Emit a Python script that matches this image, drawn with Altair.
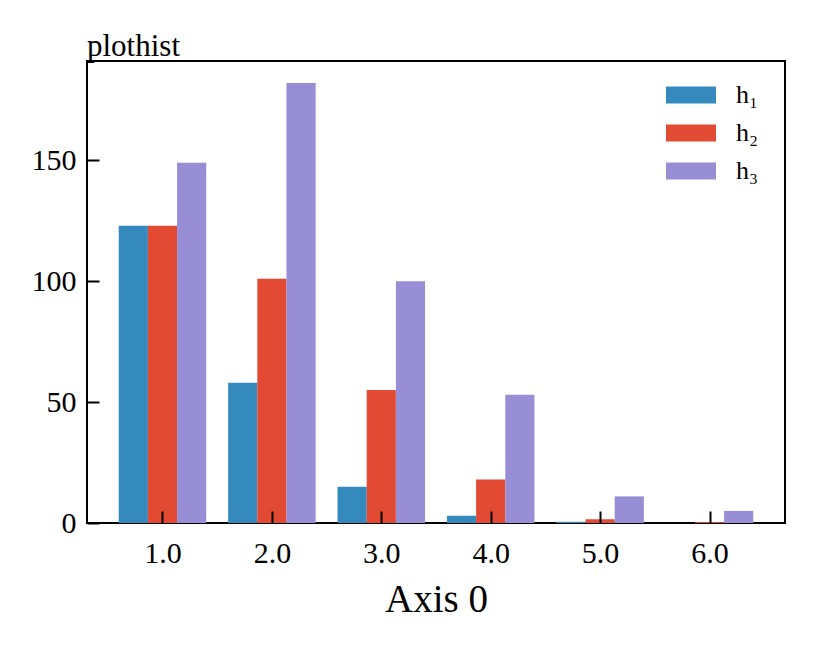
import altair as alt
import pandas as pd

# ---- data ----
centers = [1.0, 2.0, 3.0, 4.0, 5.0, 6.0]
series = ["h\u2081", "h\u2082", "h\u2083"]
h1 = [123, 58, 15, 3, 0.5, 0]
h2 = [123, 101, 55, 18, 1.5, 0.4]
h3 = [149, 182, 100, 53, 11, 5]
colors = ["#348ABD", "#E24A33", "#988ED5"]
x_ticks = [1, 2, 3, 4, 5, 6]
y_ticks = [0, 50, 100, 150]

group_width = 0.8
bar_w = group_width / len(series)
rows = []
for si, (name, vals) in enumerate(zip(series, [h1, h2, h3])):
    for c, v in zip(centers, vals):
        x0 = c - group_width / 2 + si * bar_w
        rows.append({"series": name, "x0": x0, "x1": x0 + bar_w, "count": v})
df = pd.DataFrame(rows)

FONT = "Liberation Serif"

chart = alt.Chart(df).mark_bar(stroke=None).encode(
    x=alt.X("x0:Q",
            scale=alt.Scale(domain=[0.31, 6.69], nice=False, zero=False, padding=0),
            axis=alt.Axis(values=x_ticks, format=".1f", title="Axis 0",
                          offset=-12, tickSize=12, labelPadding=15,
                          titlePadding=12, domain=False, grid=False,
                          zindex=1)),
    x2="x1:Q",
    y=alt.Y("count:Q",
            scale=alt.Scale(domain=[0, 191.1], nice=False, padding=0),
            axis=alt.Axis(values=y_ticks, title=None, offset=-12, tickSize=12,
                          labelPadding=11, domain=False, grid=False,
                          zindex=1)),
    y2=alt.datum(0),
    color=alt.Color("series:N",
                    scale=alt.Scale(domain=series, range=colors),
                    legend=alt.Legend(title=None, orient="none",
                                      legendX=579, legendY=9,
                                      symbolType="M-1,-0.34L1,-0.34L1,0.34L-1,0.34Z",
                                      symbolSize=2500, symbolStrokeWidth=0,
                                      labelFont=FONT, labelFontSize=26,
                                      labelOffset=20, rowPadding=0,
                                      padding=0)),
).properties(
    width=698,
    height=462,
    title=alt.TitleParams("plothist", anchor="start", frame="group",
                          font=FONT, fontSize=31, fontWeight="normal",
                          baseline="alphabetic", offset=0, dy=26, color="black"),
    autosize=alt.AutoSizeParams(type="none"),
    padding={"left": 79, "top": 53, "right": 21, "bottom": 100},
).configure_view(
    stroke="black", strokeWidth=2
).configure_axis(
    labelFont=FONT, labelFontSize=30, labelColor="black",
    titleFont=FONT, titleFontSize=39, titleFontWeight="normal",
    titleColor="black", tickColor="black", tickWidth=2
)

chart.save("out.html", embed_options={"renderer": "svg", "actions": False})
